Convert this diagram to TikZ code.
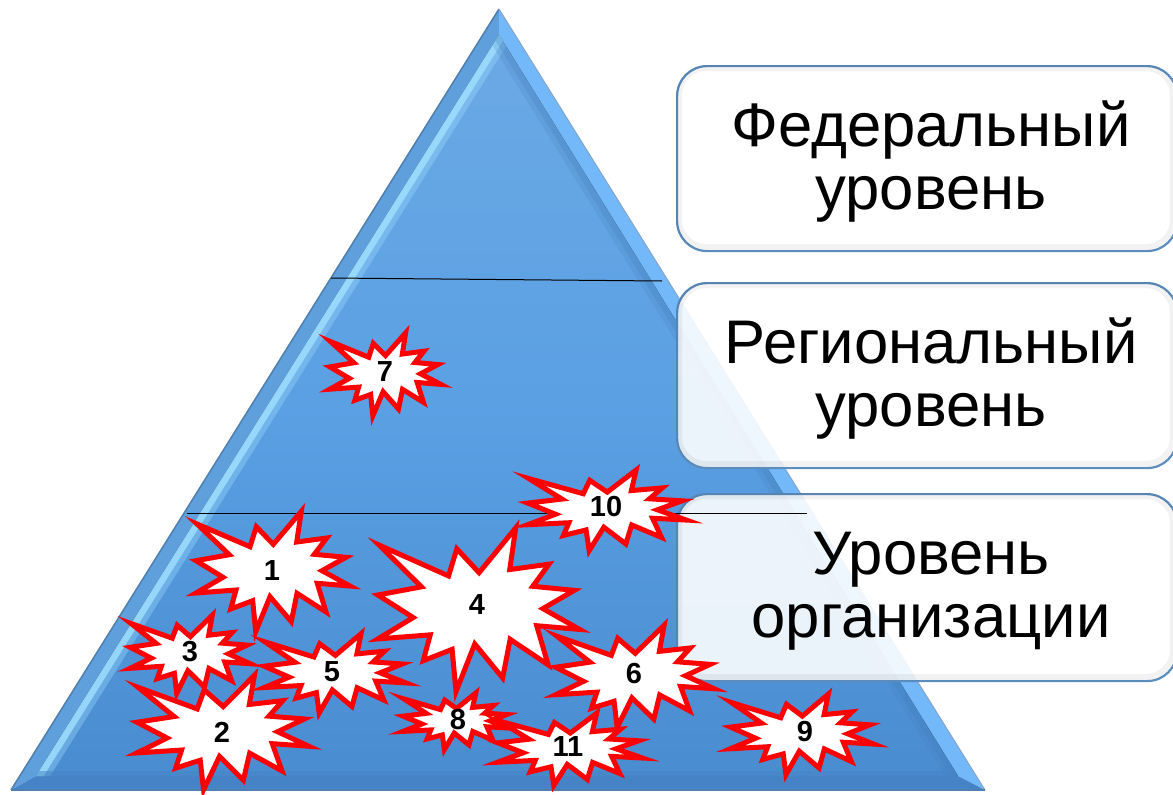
\documentclass[tikz,border=0pt]{standalone}
\usepackage{fontspec}
\setmainfont{Liberation Sans}
\newcommand\burstpath{(-77,-47) -- (-24,-24.3) -- (-17.7,-44.3) -- (-0.7,-26.7) -- (27.3,-59.7) -- (22.7,-29) -- (52.7,-33) -- (40.3,-16.7) -- (72,-13.7) -- (48,-0.3) -- (76,15) -- (43.3,12.3) -- (52,41) -- (23,22.3) -- (17.3,50.7) -- (-4,25.7) -- (-18.3,60.7) -- (-21.3,29.7) -- (-43.3,38) -- (-38,19) -- (-78,22) -- (-51,6.3) -- (-78,-10.3) -- (-44.7,-16.3) -- cycle}
\newcommand\burst[4]{%
  \draw[burstline,shift={(#1,#2)},xscale=#3,yscale=#4] \burstpath;
}
\tikzset{
  burstline/.style={draw=red,fill=white,line width=5pt,line join=miter,miter limit=14},
  burstnum/.style={font=\bfseries\fontsize{29}{29}\selectfont,inner sep=0pt,text=black},
  levelbox/.style={draw=boxedge,line width=2.2pt,fill=white,fill opacity=.89,rounded corners=30pt,anchor=north west,minimum width=500pt},
  leveltext/.style={font=\fontsize{61.6}{63}\selectfont,align=center,inner sep=0pt,text=black},
  divider/.style={draw=black,line width=1pt}
}
\definecolor{boxedge}{HTML}{5B8DBE}
\definecolor{bevleft}{HTML}{5F9FDC}
\definecolor{bevright}{HTML}{73B8F8}
\definecolor{bevbot}{HTML}{4583C6}
\definecolor{triedge}{HTML}{4F7FAE}
\definecolor{hilite}{HTML}{A0E0FF}
\definecolor{tritop}{HTML}{6CA9E5}
\definecolor{trimid}{HTML}{5AA0E3}
\definecolor{tribot}{HTML}{4A8CD0}
\begin{document}
\begin{tikzpicture}[x=1pt,y=-1pt]
\useasboundingbox (0,0) rectangle (1173,795);
% pyramid
\coordinate (apex) at (499,9);
\coordinate (bl) at (11,790);
\coordinate (br) at (985,790);
\coordinate (iapex) at (499,35);
\coordinate (ibl) at (36,776);
\coordinate (ibr) at (958,776);
\fill[bevleft] (apex) -- (bl) -- (ibl) -- (iapex) -- cycle;
\fill[bevright] (apex) -- (br) -- (ibr) -- (iapex) -- cycle;
\fill[bevbot] (bl) -- (br) -- (ibr) -- (ibl) -- cycle;
\draw[triedge,line width=1.5pt] (apex) -- (bl);
\draw[triedge!70,line width=1pt] (apex) -- (br);
\draw[triedge,line width=1.5pt] (bl) -- (br);
\begin{scope}
  \clip (iapex) -- (ibl) -- (ibr) -- cycle;
  \fill[top color=tritop,bottom color=tribot,middle color=trimid] (0,35) rectangle (1000,776);
  \draw[hilite,opacity=.35,line width=24pt] (iapex) -- (ibl);
  \draw[hilite,opacity=.8,line width=13pt] (iapex) -- (ibl);
  \draw[tribot!90!black,opacity=.2,line width=22pt] (iapex) -- (ibr);
  \draw[tribot!90!black,opacity=.25,line width=12pt] (iapex) -- (ibr);
  \draw[bevbot,opacity=.5,line width=10pt] (ibl) -- (ibr);
\end{scope}
% level boxes
\node[levelbox,minimum height=185pt] (boxa) at (676,65) {};
\node[levelbox,minimum height=185pt] (boxb) at (676,282) {};
\node[levelbox,minimum height=187pt] (boxc) at (676,493) {};
\foreach \ytop/\ybot in {65/250,282/467,493/680}{
  \begin{scope}
    \clip[rounded corners=30pt] (676,\ytop) rectangle (1176,\ybot);
    \draw[black,opacity=.05,line width=12pt,rounded corners=30pt] (676,\ytop) rectangle (1176,\ybot);
  \end{scope}
}
\node[leveltext] (texta) at (931,162) {Федеральный\\уровень};
\node[leveltext] (textb) at (931,379) {Региональный\\уровень};
\node[leveltext] (textc) at (931,591) {Уровень\\организации};
% dividers
\coordinate (d1a) at (331,278);
\coordinate (d1b) at (662,281);
\coordinate (d2a) at (187,513);
\coordinate (d2b) at (807,513);
\draw[divider] (d1a) -- (d1b);
\draw[divider] (d2a) -- (d2b);
% bursts
\burst{274}{571}{1}{1}
\burst{224}{732}{1.116}{.95}
\burst{191}{654}{.78}{.65}
\burst{480}{609}{1.31}{1.36}
\burst{336}{673}{.92}{.66}
\burst{636}{676}{1.03}{.85}
\burst{386}{374}{.72}{.69}
\burst{457}{721}{.69}{.47}
\burst{803}{734}{.93}{.67}
\burst{608}{510}{1.03}{.67}
\burst{571}{749}{.94}{.6}
\node[burstnum] (n1) at (272,571) {1};
\node[burstnum] (n2) at (222,732) {2};
\node[burstnum] (n3) at (190,652) {3};
\node[burstnum] (n4) at (477,605) {4};
\node[burstnum] (n5) at (332,672) {5};
\node[burstnum] (n6) at (634,674) {6};
\node[burstnum] (n7) at (385,372) {7};
\node[burstnum] (n8) at (458,720) {8};
\node[burstnum] (n9) at (805,732) {9};
\node[burstnum] (n10) at (606,507) {10};
\node[burstnum] (n11) at (568,747) {11};
\end{tikzpicture}
\end{document}
